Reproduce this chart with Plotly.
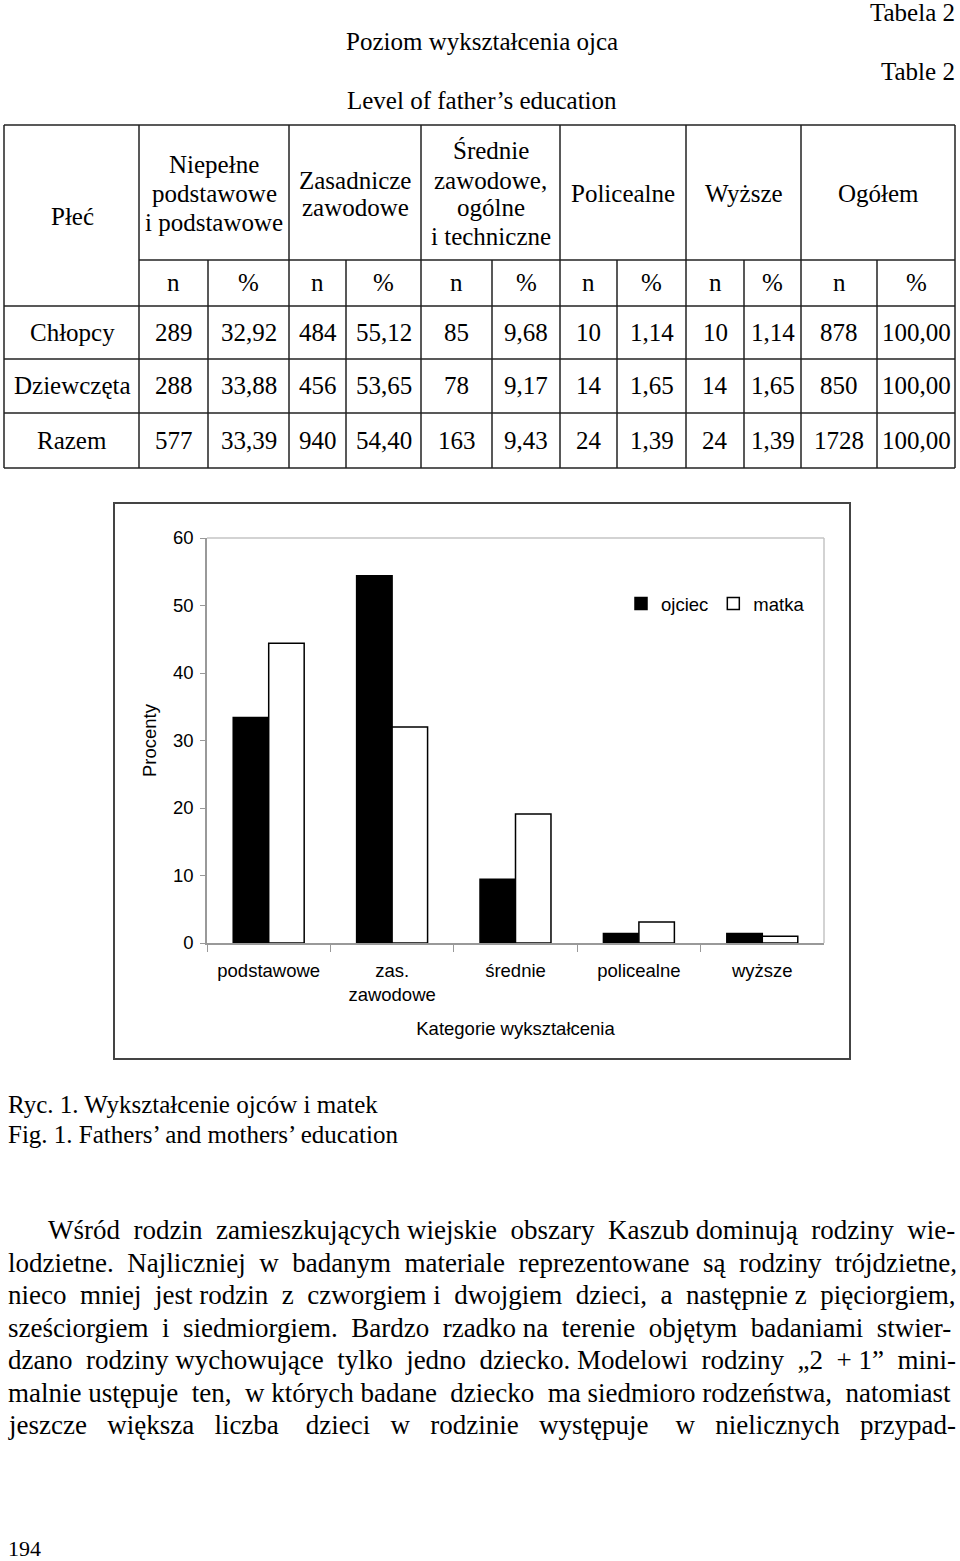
import plotly.graph_objects as go

W, H = 960, 1561
SERIF = "Liberation Serif"
SANS = "Liberation Sans"

# --- table data ---
header_cols = [
    ["Niepełne", "podstawowe", "i podstawowe"],
    ["Zasadnicze", "zawodowe"],
    ["Średnie", "zawodowe,", "ogólne", "i techniczne"],
    ["Policealne"],
    ["Wyższe"],
    ["Ogółem"],
]
row_labels = ["Chłopcy", "Dziewczęta", "Razem"]
chlopcy_n = [289, 484, 85, 10, 10, 878]
chlopcy_pct = [32.92, 55.12, 9.68, 1.14, 1.14, 100.00]
dziewczeta_n = [288, 456, 78, 14, 14, 850]
dziewczeta_pct = [33.88, 53.65, 9.17, 1.65, 1.65, 100.00]
razem_n = [577, 940, 163, 24, 24, 1728]
razem_pct = [33.39, 54.40, 9.43, 1.39, 1.39, 100.00]

# --- chart data ---
categories = ["podstawowe", "zas.<br>zawodowe", "średnie", "policealne", "wyższe"]
ojciec = [33.39, 54.40, 9.43, 1.39, 1.39]
matka = [44.4, 32.0, 19.1, 3.1, 1.0]

body_lines = [
    "Wśród rodzin zamieszkujących wiejskie obszary Kaszub dominują rodziny wie-",
    "lodzietne. Najliczniej w badanym materiale reprezentowane są rodziny trójdzietne,",
    "nieco mniej jest rodzin z czworgiem i dwojgiem dzieci, a następnie z pięciorgiem,",
    "sześciorgiem i siedmiorgiem. Bardzo rzadko na terenie objętym badaniami stwier-",
    "dzano rodziny wychowujące tylko jedno dziecko. Modelowi rodziny „2 + 1” mini-",
    "malnie ustępuje ten, w których badane dziecko ma siedmioro rodzeństwa, natomiast",
    "jeszcze większa liczba dzieci w rodzinie występuje w nielicznych przypad-",
]
# extra non-breaking spaces spread over each line's gaps (justified look)
body_extra = [6, 8, 9, 8, 8, 5, 20]


def fx(x):
    return x / W


def fy(y):
    return 1 - y / H


annotations = []
shapes = []


def text(x, y, s, size=25, family=SERIF, anchor="center"):
    annotations.append(dict(
        x=fx(x), y=fy(y), xref="paper", yref="paper", text=s, showarrow=False,
        xanchor=anchor, yanchor="middle",
        font=dict(family=family, size=size, color="black")))


def line(x0, y0, x1, y1, color="#222", width=1.5):
    shapes.append(dict(type="line", xref="paper", yref="paper",
                       x0=fx(x0), y0=fy(y0), x1=fx(x1), y1=fy(y1),
                       line=dict(color=color, width=width)))


def num(v, pct):
    return f"{v:.2f}".replace(".", ",") if pct else str(v)


def justify(s, extra):
    words = s.split(" ")
    gaps = len(words) - 1
    out = words[0]
    given = 0
    for i in range(1, len(words)):
        want = round(extra * i / gaps)
        out += " " + "\u00a0" * (want - given) + words[i]
        given = want
    return out


# titles above the table
text(482, 42, "Poziom wykształcenia ojca")
text(482, 100, "Level of father’s education")
text(957, 13, "Tabela 2", anchor="right")
text(957, 72, "Table 2", anchor="right")

# table grid
outer = [4, 139, 289, 421, 560, 686, 801, 955]
inner = [208, 346, 492, 617, 744, 877]
rows_y = [125, 260, 306, 359, 413, 468]
for x in outer:
    line(x, rows_y[0], x, rows_y[-1])
for x in inner:
    line(x, rows_y[1], x, rows_y[-1])
line(4, rows_y[0], 955, rows_y[0])
line(139, rows_y[1], 955, rows_y[1])
for y in rows_y[2:]:
    line(4, y, 955, y)

text(72, 217, "Płeć")
head_y = {1: [194], 2: [180, 208], 3: [165, 194, 223], 4: [150, 180, 208, 237]}
for i, lines_ in enumerate(header_cols):
    cx = (outer[i + 1] + outer[i + 2]) / 2
    for s, y in zip(lines_, head_y[len(lines_)]):
        text(cx, y, s)

sub_x = []
for i in range(6):
    sub_x.append((outer[i + 1] + inner[i]) / 2)
    sub_x.append((inner[i] + outer[i + 2]) / 2)
for j, cx in enumerate(sub_x):
    text(cx, 283, "n" if j % 2 == 0 else "%")

table_rows = [(chlopcy_n, chlopcy_pct), (dziewczeta_n, dziewczeta_pct), (razem_n, razem_pct)]
for r, (label, (ns, ps)) in enumerate(zip(row_labels, table_rows)):
    y = (rows_y[r + 2] + rows_y[r + 3]) / 2
    text(72, y, label)
    for i in range(6):
        text(sub_x[2 * i], y, num(ns[i], False))
        text(sub_x[2 * i + 1], y, num(ps[i], True))

# chart frame
shapes.append(dict(type="rect", xref="paper", yref="paper",
                   x0=fx(114), x1=fx(850), y0=fy(503), y1=fy(1059),
                   line=dict(color="#444", width=2)))
line(207, 538, 824, 538, color="#c4c4c4", width=1.5)
line(824, 538, 824, 943, color="#c4c4c4", width=1.5)

# captions
text(6, 1104, "Ryc. 1. Wykształcenie ojców i matek", anchor="left")
text(6, 1134, "Fig. 1. Fathers’ and mothers’ education", anchor="left")

for k, s in enumerate(body_lines):
    text(46 if k == 0 else 6, 1230 + k * 32.5, justify(s, body_extra[k]),
         size=27, anchor="left")

text(6, 1548, "194", size=22, anchor="left")

fig = go.Figure()
fig.add_bar(x=categories, y=ojciec, name="ojciec",
            marker=dict(color="black", line=dict(color="black", width=1.5)))
fig.add_bar(x=categories, y=matka, name="matka",
            marker=dict(color="white", line=dict(color="black", width=1.5)))

fig.update_layout(
    width=W, height=H, autosize=False,
    margin=dict(l=0, r=0, t=0, b=0, pad=0),
    paper_bgcolor="white", plot_bgcolor="white",
    barmode="group", bargap=0.425, bargroupgap=0,
    font=dict(family=SANS, size=18.5, color="black"),
    legend=dict(orientation="h", x=fx(810), xanchor="right",
                y=fy(604), yanchor="middle", bgcolor="rgba(0,0,0,0)",
                font=dict(family=SANS, size=18.5), itemwidth=30),
    annotations=annotations,
    shapes=shapes,
)
fig.update_xaxes(
    domain=[fx(207), fx(824)], type="category", tickson="boundaries",
    ticks="outside", ticklen=7, tickcolor="#999", showline=True,
    linecolor="#999", linewidth=1.5, showgrid=False, automargin=False,
    ticklabelstandoff=10,
    tickfont=dict(family=SANS, size=18.5),
    title=dict(text="Kategorie wykształcenia", standoff=18,
               font=dict(family=SANS, size=18.5)),
)
fig.update_yaxes(
    domain=[fy(943), fy(538)], range=[0, 60], dtick=10,
    ticks="outside", ticklen=5, tickcolor="#999", showline=True,
    linecolor="#999", linewidth=1.5, showgrid=False, zeroline=False,
    automargin=False, ticklabelstandoff=3,
    tickfont=dict(family=SANS, size=18.5),
    title=dict(text="Procenty", standoff=11,
               font=dict(family=SANS, size=18.5)),
)

fig.write_html("out.html", config={"displayModeBar": False},
               post_script="document.body.style.margin='0';")
